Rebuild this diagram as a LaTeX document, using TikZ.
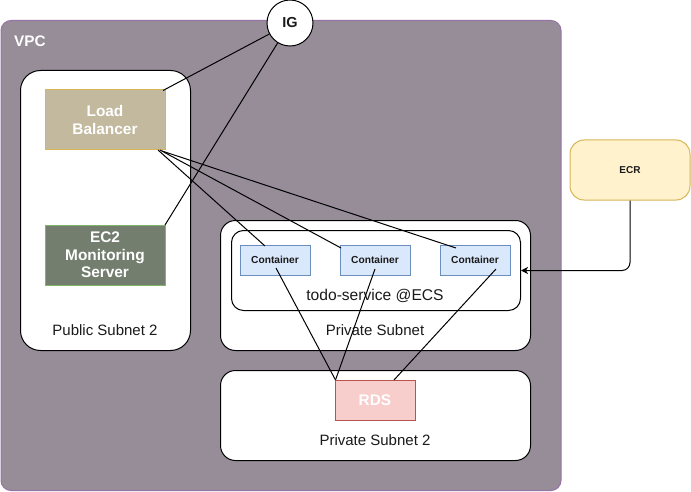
\documentclass[tikz,border=0pt]{standalone}
\usepackage{fontspec}
\setmainfont{Liberation Sans}
\usetikzlibrary{arrows.meta}
\definecolor{vpcfill}{HTML}{968D99}
\definecolor{vpcline}{HTML}{9673A6}
\definecolor{lbfill}{HTML}{C2B99E}
\definecolor{lbline}{HTML}{D6B656}
\definecolor{ecfill}{HTML}{747E6F}
\definecolor{ecline}{HTML}{82B366}
\definecolor{ctfill}{HTML}{DAE8FC}
\definecolor{ctline}{HTML}{6C8EBF}
\definecolor{rdsfill}{HTML}{F8CECC}
\definecolor{rdsline}{HTML}{B85450}
\definecolor{ecrfill}{HTML}{FFF2CC}
\definecolor{txt}{HTML}{1A1A1A}
\tikzset{
  subnet/.style={draw=black, fill=white, line width=1pt, rounded corners=#1},
  wbox/.style={draw=#1, line width=1pt, text=white, font=\fontsize{15.4}{17.5}\selectfont\bfseries, align=center, inner sep=0pt},
  ctbox/.style={draw=ctline, fill=ctfill, line width=1pt, inner sep=0pt, minimum width=70pt, minimum height=30pt, text=txt, font=\fontsize{10.2}{12}\selectfont\bfseries},
  lbl/.style={text=txt, font=\fontsize{15}{18}\selectfont},
  conn/.style={draw=black, line width=1pt},
}
\begin{document}
\begin{tikzpicture}[x=1pt,y=-1pt]
\useasboundingbox (0,0) rectangle (691,492);
% VPC
\node[draw=vpcline, fill=vpcfill, line width=1pt, rounded corners=10pt, minimum width=560pt, minimum height=470pt, inner sep=0pt, anchor=north west] (vpc) at (0.5,20) {};
\node[anchor=west, inner sep=0pt, text=white, font=\fontsize{15.3}{18}\selectfont\bfseries] (vpclbl) at (14,41) {VPC};
% Public subnet
\node[subnet=20pt, minimum width=170pt, minimum height=280pt, inner sep=0pt, anchor=north west] (pub) at (20,70) {};
\node[lbl] (publbl) at (105,330) {Public Subnet 2};
% Private subnet
\node[subnet=15pt, minimum width=310pt, minimum height=130pt, inner sep=0pt, anchor=north west] (priv) at (220,220) {};
\node[lbl] (privlbl) at (375,330) {Private Subnet};
% ECS
\node[subnet=12pt, minimum width=289pt, minimum height=80pt, inner sep=0pt, anchor=north west] (ecs) at (231,230) {};
\node[text=txt, font=\fontsize{15.6}{18}\selectfont] (ecslbl) at (375,296) {todo-service @ECS};
% Private subnet 2
\node[subnet=15pt, minimum width=310pt, minimum height=90pt, inner sep=0pt, anchor=north west] (priv2) at (220,370) {};
\node[lbl] (priv2lbl) at (375,440) {Private Subnet 2};
% Boxes
\node[wbox=lbline, fill=lbfill, minimum width=120pt, minimum height=60pt] (lb) at (105,120) {Load\\Balancer};
\node[wbox=ecline, fill=ecfill, minimum width=120pt, minimum height=60pt] (ec2) at (105,255) {EC2\\Monitoring\\Server};
\node[ctbox] (c1) at (275,260) {Container};
\node[ctbox] (c2) at (375,260) {Container};
\node[ctbox] (c3) at (475,260) {Container};
\node[wbox=rdsline, fill=rdsfill, minimum width=80pt, minimum height=40pt] (rds) at (375,400) {RDS};
\node[draw=lbline, fill=ecrfill, line width=1pt, rounded corners=14pt, minimum width=120pt, minimum height=60pt, inner sep=0pt, text=txt, font=\fontsize{10}{12}\selectfont\bfseries] (ecr) at (630,170) {ECR};
% IG
\node[circle, draw=black, fill=white, line width=1pt, minimum size=46pt, inner sep=0pt, font=\fontsize{14.5}{17}\selectfont\bfseries, text=txt] (ig) at (290,23) {IG};
% Connectors
\coordinate (lbtr) at (163,90.5);
\coordinate (ectr) at (165,225);
\draw[conn] (ig) -- (lbtr);
\draw[conn] (ig) -- (ectr);
\coordinate (lbs1) at (158,150);
\coordinate (lbs2) at (160,150);
\coordinate (lbs3) at (162,151);
\coordinate (c1t) at (265,246);
\coordinate (c2t) at (341,248);
\coordinate (c3t) at (456,248);
\draw[conn] (lbs1) -- (c1t);
\draw[conn] (lbs2) -- (c2t);
\draw[conn] (lbs3) -- (c3t);
\coordinate (c1b) at (276,268);
\coordinate (c2b) at (375,269);
\coordinate (c3b) at (496,269);
\coordinate (rdsa) at (335.5,380);
\coordinate (rdsb) at (394,380);
\draw[conn] (c1b) -- (rdsa);
\draw[conn] (c2b) -- (rdsa);
\draw[conn] (c3b) -- (rdsb);
\draw[conn, rounded corners=8pt, -{Stealth[length=7pt,width=7pt,inset=2pt]}] (ecr.south) |- (ecs.east);
\end{tikzpicture}
\end{document}
